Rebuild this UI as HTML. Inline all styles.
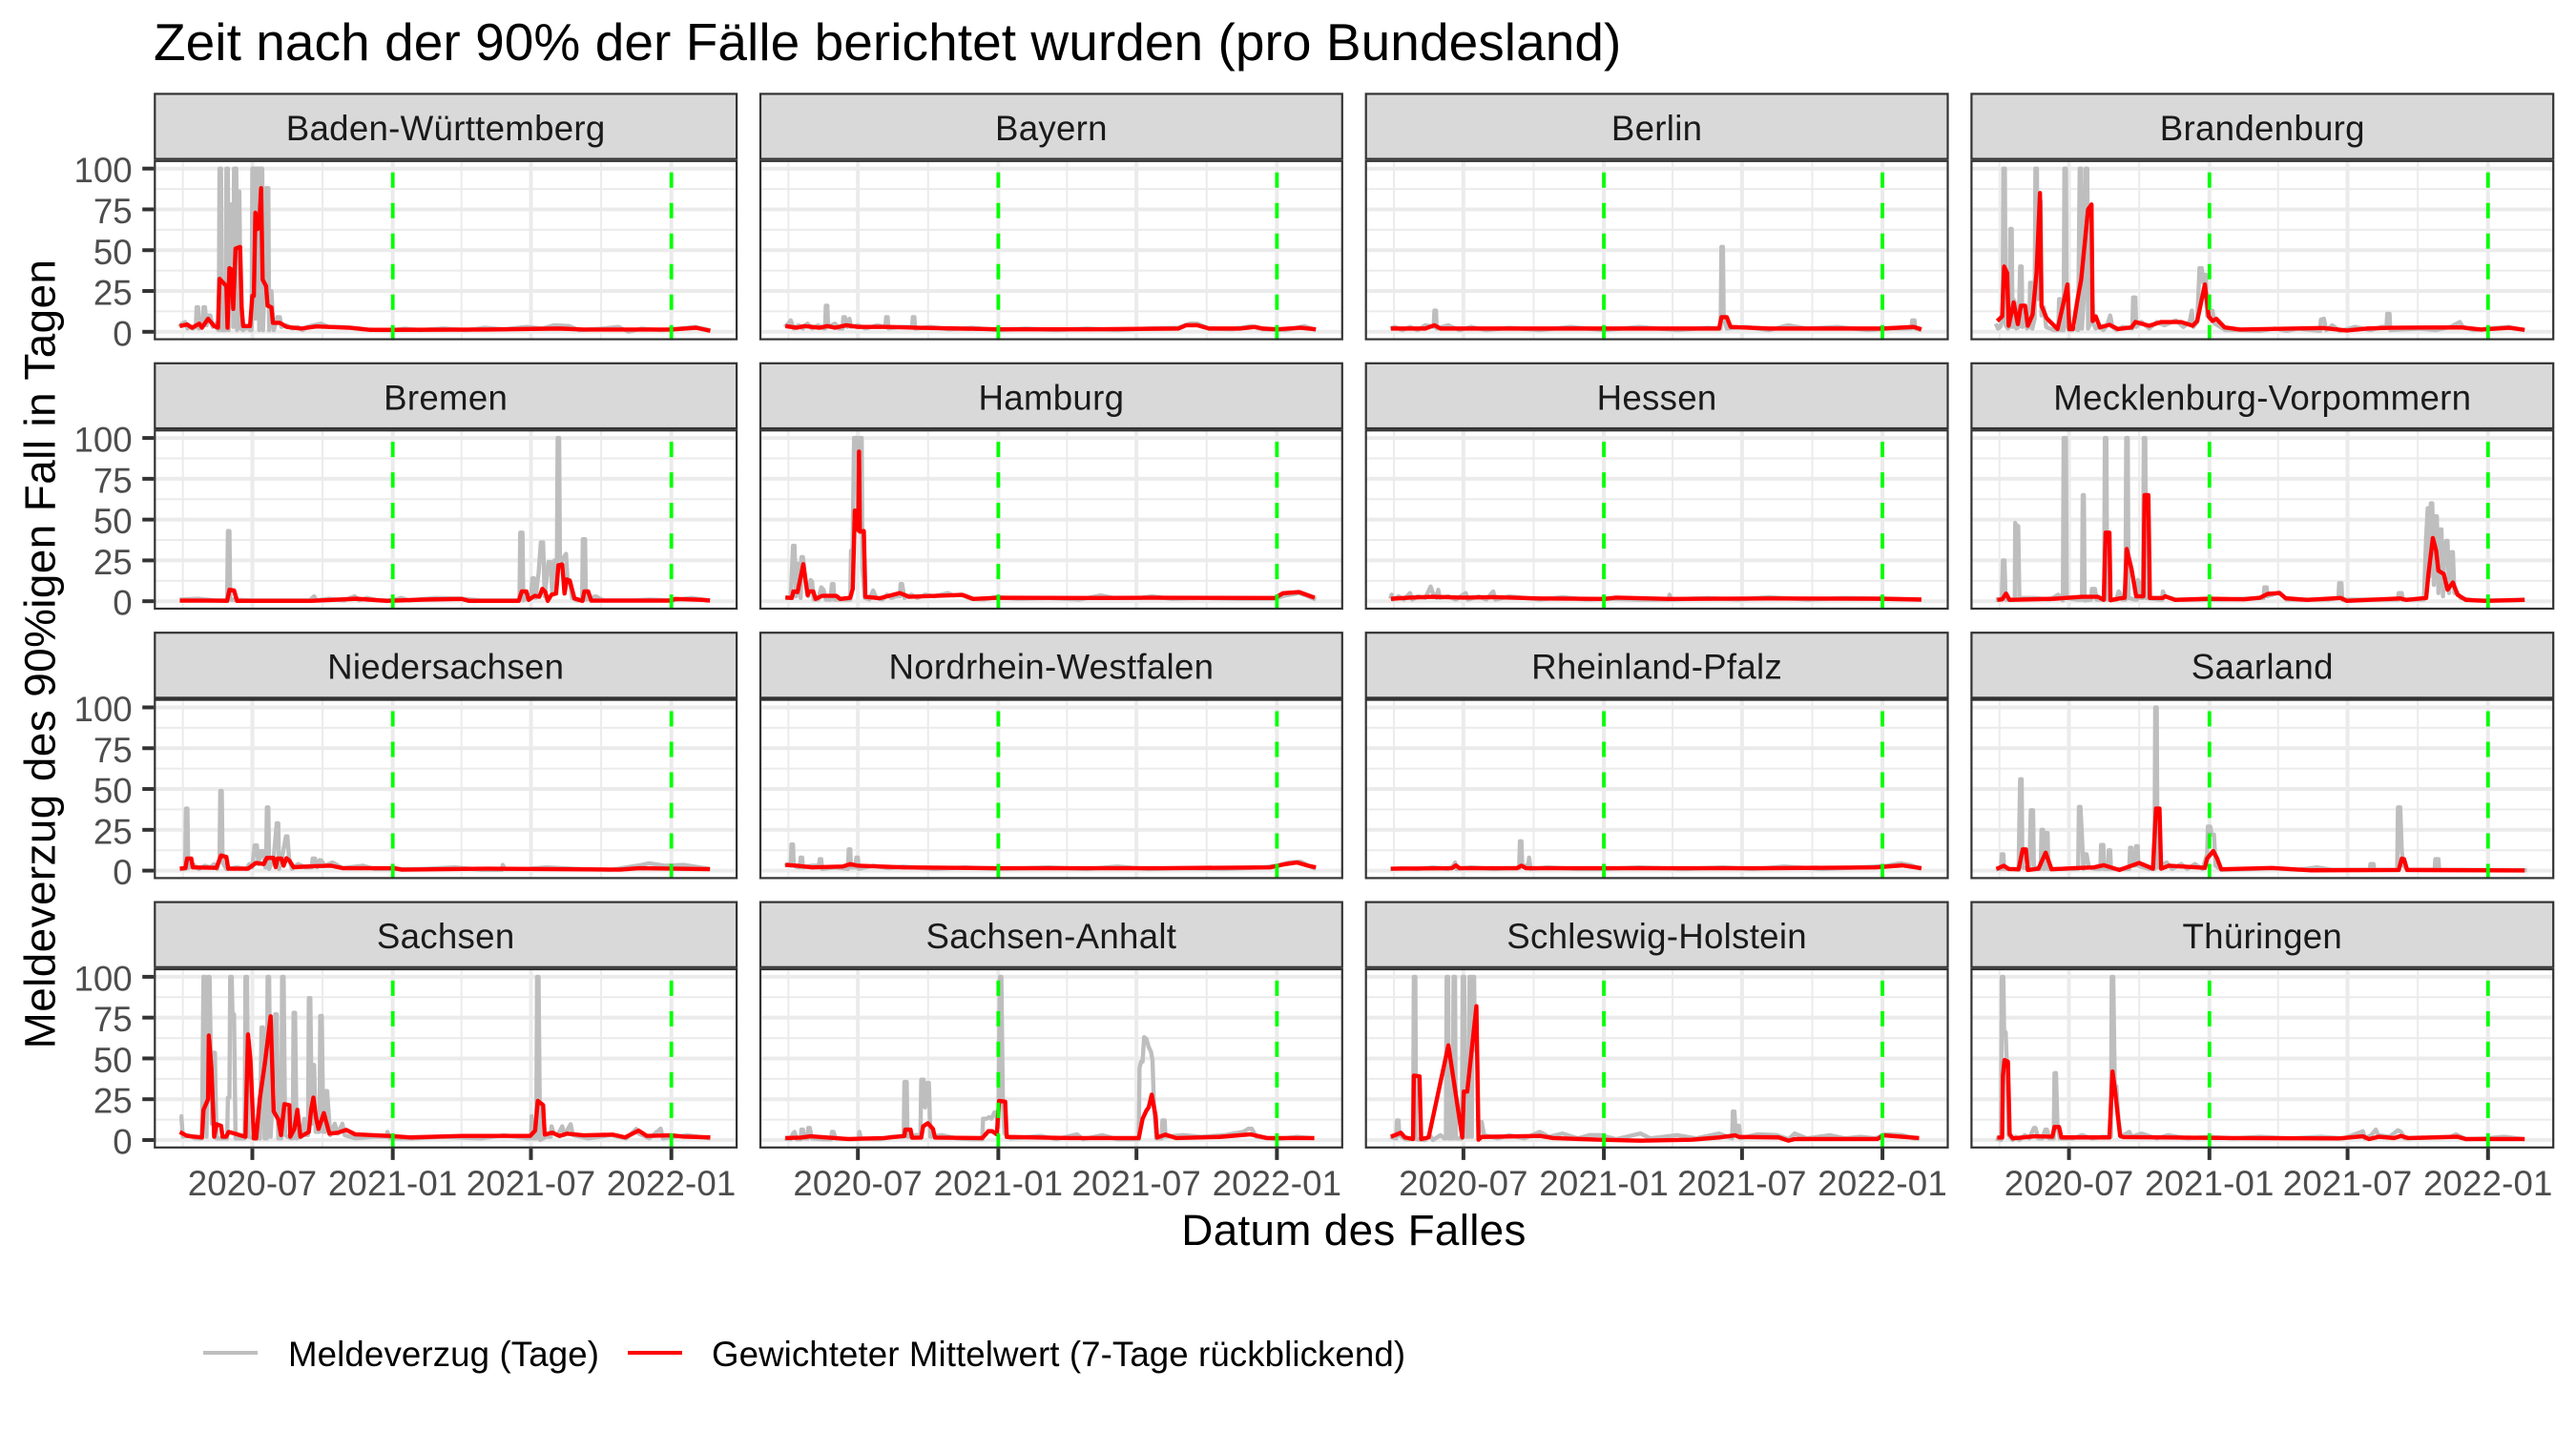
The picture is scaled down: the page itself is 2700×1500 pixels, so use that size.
<!DOCTYPE html>
<html lang="de">
<head>
<meta charset="utf-8">
<title>Zeit nach der 90% der Fälle berichtet wurden (pro Bundesland)</title>
<style>
html,body{margin:0;padding:0;background:#fff;}
svg{display:block;}
text{font-family:"Liberation Sans",Arial,sans-serif;}
</style>
</head>
<body>
<svg id="chart" width="2700" height="1500" viewBox="0 0 2700 1500" xmlns="http://www.w3.org/2000/svg">
<rect x="0" y="0" width="2700" height="1500" fill="#ffffff"/>
<text x="161" y="63" font-size="55" letter-spacing="0.06" fill="#000000">Zeit nach der 90% der Fälle berichtet wurden (pro Bundesland)</text>
<text transform="translate(57.5,685.5) rotate(-90)" text-anchor="middle" font-size="45.83" letter-spacing="0.43" fill="#000000">Meldeverzug des 90%igen Fall in Tagen</text>
<text x="1419" y="1305" text-anchor="middle" font-size="45.83" letter-spacing="0.3" fill="#000000">Datum des Falles</text>
<g>
<line x1="213" y1="1418" x2="270" y2="1418" stroke="#BEBEBE" stroke-width="4"/>
<text x="302" y="1432" font-size="36.67" letter-spacing="0.12" fill="#000000">Meldeverzug (Tage)</text>
<line x1="658" y1="1418" x2="715" y2="1418" stroke="#FF0000" stroke-width="4"/>
<text x="746" y="1432" font-size="36.67" letter-spacing="0.09" fill="#000000">Gewichteter Mittelwert (7-Tage rückblickend)</text>
</g>
<g id="panels"></g>
</svg>
<script>
const states = ["Baden-Württemberg","Bayern","Berlin","Brandenburg","Bremen","Hamburg","Hessen","Mecklenburg-Vorpommern","Niedersachsen","Nordrhein-Westfalen","Rheinland-Pfalz","Saarland","Sachsen","Sachsen-Anhalt","Schleswig-Holstein","Thüringen"];
const xTickDates = ["2020-07-01","2021-01-01","2021-07-01","2022-01-01"];
const xTickLabels = ["2020-07","2021-01","2021-07","2022-01"];
const xMinorDates = ["2020-04-01","2020-10-01","2021-04-01","2021-10-01"];
const yTicks = [0,25,50,75,100];
const yTickLabels = ["0","25","50","75","100"];
const yMinorTicks = [12.5,37.5,62.5,87.5];
const markerDates = ["2021-01-01","2022-01-01"];

/* Each pair is [days since 2020-07-01, delay in days] */
const bwGrey = [[-96,3],[-92,5],[-88,6],[-85,2],[-82,3],[-78,2],[-74,3],[-73,15],[-71,15],[-70,2],[-66,3],[-64,15],[-62,15],[-60,4],[-57,10],[-55,10],[-52,3],[-48,5],[-46,2],[-44,1],[-43,100],[-41,100],[-40,1],[-35,1],[-34,100],[-32,100],[-31,1],[-30,78],[-26,78],[-25,3],[-24,100],[-21,100],[-20,1],[-19,86],[-17,86],[-15,2],[-12,1],[-7,3],[-3,1],[-1,1],[0,100],[3,100],[4,8],[5,100],[8,100],[9,1],[10,100],[13,100],[14,1],[16,30],[18,88],[21,88],[22,1],[25,25],[28,1],[33,9],[36,9],[38,3],[45,4],[52,2],[60,3],[66,1],[72,3],[80,4],[90,5],[100,3],[115,3],[130,2.5],[145,1.5],[170,1],[184,1],[200,2],[220,1],[250,2],[280,1],[305,2.5],[330,1.5],[360,3],[380,2],[395,4],[415,3.5],[428,1],[460,2],[480,3],[493,0],[510,2],[535,1],[560,2],[580,3],[600,1]];
const bwRed = [[-95,3.5],[-85.5,4.5],[-79,2.5],[-69.5,5],[-66,2.5],[-58,8],[-50,3.5],[-45,2.5],[-43,32.5],[-38,30],[-34,28],[-32.5,2.5],[-30,39],[-27,38],[-25,14],[-22,51],[-16,52],[-14,15],[-12,3.5],[-3,3.5],[0,22],[2,22],[4,73],[7,63],[9,65],[11.5,88],[13.5,32],[18,28],[20,16],[25,15],[27,5.5],[36,5.5],[45,3],[64,2],[84,3.3],[128,2.5],[154,1.2],[184,1.2],[307,1.4],[402,2],[434,1.4],[549,1.4],[581,2.5],[600,0.6]];

const byGrey = [[-96,3],[-91,5],[-88,7],[-84,2],[-78,4],[-72,2],[-66,5],[-60,2],[-52,4],[-45,2],[-43,2],[-42,16],[-40,16],[-39,3],[-30,5],[-25,2],[-20,2],[-19,9],[-17,9],[-14,3],[-11,8],[-9,3],[0,4],[10,2],[25,4],[36,3],[37,9],[39,9],[40,2],[55,3],[71,3],[72,9],[74,9],[75,2],[95,3],[120,1.5],[150,2.5],[184,1],[220,2],[260,1],[300,2],[340,1],[380,2],[420,2.5],[435,5],[445,5],[460,2],[490,1.5],[515,3.5],[530,1.5],[560,1],[585,3.5],[600,1]];
const byRed = [[-95,3.5],[-80,2.5],[-70,3.5],[-50,2.5],[-40,3.5],[-30,2.5],[-15,4],[0,3],[40,3],[80,2.5],[184,1.5],[300,1.5],[420,2],[430,4],[445,4],[460,2],[500,2],[520,3],[530,2],[549,1.5],[580,2.5],[600,1.5]];

const beGrey = [[-96,2],[-90,3],[-80,1],[-70,3],[-60,1],[-50,4],[-39,3],[-38,13],[-36,13],[-35,2],[-20,4],[-5,1],[10,3],[30,1],[60,2.5],[100,1],[140,3],[184,1],[230,3],[280,1],[320,2.5],[337,2],[338,52],[340,52],[341,8],[345,2],[370,3],[400,1],[425,4],[450,2],[490,3],[530,1],[560,2],[587,2],[588,7],[591,7],[592,2],[600,1]];
const beRed = [[-95,2],[-50,2],[-38,4],[-30,2],[60,2],[184,2],[335,2],[338,9],[345,9],[350,3],[400,2],[549,2],[590,3],[600,1.5]];

const bbGrey = [[-96,5],[-93,2],[-90,3],[-87,8],[-86,100],[-84,100],[-83,4],[-80,2],[-78,3],[-77,63],[-75,63],[-74,3],[-73,20],[-71,18],[-69,2],[-66,3],[-64,40],[-62,40],[-61,3],[-58,8],[-55,2],[-52,3],[-51,30],[-49,30],[-48,2],[-45,8],[-44,100],[-42,100],[-41,20],[-39,80],[-37,80],[-36,10],[-33,15],[-30,3],[-25,2],[-20,1],[-14,1],[-13,20],[-11,20],[-10,1],[-7,1],[-6,100],[-4,100],[-3,5],[0,1],[4,1],[8,2],[12,1],[14,100],[16,100],[17,2],[20,25],[22,100],[24,100],[25,2],[28,5],[30,32],[32,5],[35,2],[40,3],[45,1],[50,4],[54,10],[57,3],[62,1],[70,3],[83,2],[84,21],[87,21],[88,3],[95,6],[105,2],[115,6],[125,4],[140,7],[150,3],[158,6],[161,13],[163,3],[168,6],[171,39],[174,39],[176,30],[179,35],[181,10],[185,8],[188,13],[191,5],[198,3],[205,1],[225,1],[250,0.5],[270,2],[285,0.5],[300,2],[329,0.5],[330,7.5],[334,8],[337,1],[345,4],[355,0.5],[375,3],[395,1],[410,3],[416,3],[417,11],[420,11],[421,1],[440,1.5],[460,2],[480,1],[500,3],[512,6],[516,3],[530,1],[550,2],[575,3],[597,1]];
const bbRed = [[-94,6.6],[-87.5,9.5],[-85,40],[-81,36],[-79,3.7],[-72.5,18],[-67,4.7],[-63,16],[-57.5,16],[-54,3.7],[-47.7,10.5],[-42.5,36],[-38,85],[-36,16],[-29.5,8.5],[-15,1.7],[-9,14],[-2,29],[0.5,1.7],[5,1.7],[12,22],[16,32],[25,75],[29.5,78],[31,6.6],[35,9.5],[40.5,2.7],[53,4.3],[64,1.7],[82,2.7],[87,6],[105,3.7],[121,6],[147,6],[162,3.7],[168,6.6],[178,29],[183,9.5],[188,6.6],[193,8],[204,2.7],[224,1.4],[333,2.3],[364,0.8],[390,2],[421,2.5],[514,2.7],[540,1.4],[577,2.5],[597,1.2]];

const hbGreyB = [[-95,1],[-70,1.5],[-50,0.5],[-33,0.5],[-32,43],[-30,43],[-29,1],[0,0.5],[40,0.5],[75,0.5],[81,3],[84,0.5],[100,1.5],[120,0.5],[134,3],[140,0.5],[150,2],[165,0.5],[184,0.5],[195,2],[205,0.5],[240,2],[275,1.5],[300,0.5],[350,0.5],[351,42],[354,42],[355,0.5],[365,3],[367,14],[369,14],[371,2],[375,17],[378,36],[381,36],[383,3],[388,24],[391,24],[393,4],[396,25],[399,20],[400,100],[402,100],[403,27],[405,24],[408,27],[411,29],[413,13],[416,13],[419,2],[425,0.5],[432,0.5],[433,38],[436,38],[437,1],[450,3],[460,0.5],[500,0.5],[520,1],[549,0.5],[575,2],[590,1],[600,0.5]];
const hbRed = [[-95,0.4],[-52,0.4],[-33,0.2],[-30,7],[-24,6.6],[-20,0.2],[77,0.2],[137,1.5],[176,0.2],[225,1],[274,1.4],[284,0.2],[349,0.2],[353,6],[359,6],[362,0.8],[370,3.3],[376,2.7],[380,7.6],[384,5.6],[387,0.2],[392,4],[398,4.7],[401,22],[406,22.5],[409,4.7],[412,13.4],[416,12.4],[422,1.7],[432.6,0.2],[435,6],[440,6],[444,0.4],[549,0.4],[554,1.4],[590,0.8],[599.5,0.4]];

const hhGrey = [[-95,2],[-88,2],[-85,34],[-83,34],[-81,3],[-79,23],[-77,18],[-75,2],[-74,27],[-72,27],[-68,10],[-65,3],[-62,13],[-60,12],[-58,1],[-52,1],[-48,8.5],[-45,7],[-42,1],[-36,1],[-34,10.5],[-32,10.5],[-31,1],[-20,1],[-10,1],[-9,31],[-7,31],[-5,100],[-1,100],[0,50],[3,100],[5,100],[6,20],[9,2],[15,1],[20,6.6],[24,2],[32,1],[38,4],[44,2],[50,3],[55,3],[56,10.5],[58,10.5],[61,2],[70,4],[78,2],[88,4],[100,3],[118,5],[125,3.5],[135,4],[148,1.5],[165,1],[180,2.5],[210,1.5],[250,2],[290,1],[318,3.5],[335,2],[370,2],[385,3],[410,1.5],[450,2],[500,1.5],[545,1.5],[560,3.5],[578,5],[590,3],[600,1]];
const hhRed = [[-95,2.3],[-86.5,2],[-84.5,6],[-79,5.6],[-71.5,22.7],[-65.8,3.7],[-63.7,6],[-58.5,6],[-55.4,1.4],[-46.6,3.3],[-28.5,3.3],[-23,1.4],[-10,2.1],[-6.7,7.6],[-4,55.6],[-1.5,55],[0.5,43.5],[1.5,91.7],[2.6,42.6],[7.8,43],[9.8,2.7],[28.5,1.8],[55,5],[67,2.7],[116.6,3.5],[137,3.9],[151,1.4],[184,2.1],[318.6,2],[381,2.1],[546.6,2],[557,4.9],[578,5.6],[598.5,2.1]];

const heGrey = [[-96,1.5],[-94,4],[-92,1],[-85,3],[-78,1],[-70,5],[-67,1],[-60,3],[-50,2],[-43,9],[-40,5],[-35,2],[-33,7],[-31,2],[-20,3],[-10,1],[3,5],[6,1],[20,3],[30,1],[39,6],[42,1],[60,3],[100,1],[130,2.5],[160,1],[190,1.5],[230,1],[269,1],[270,4],[272,1],[320,2],[360,1],[400,2.5],[450,1],[500,2],[550,1.5],[600,1]];
const heRed = [[-95,1.5],[-70,2.2],[-40,2.7],[0,2.2],[40,2.5],[100,1.7],[184,1.4],[200,2.2],[270,1.4],[400,1.7],[549,1.5],[600,1]];

const mvGrey = [[-96,1],[-88,1],[-86.5,25],[-84.5,25],[-83,1],[-71,1],[-70.5,48],[-68.5,46],[-66.5,46],[-65,2],[-55,2],[-45,2],[-25,1],[-14,4],[-8,0.5],[-7,100],[-4,100],[-3,2],[10,1],[17,1],[18,65],[19.5,65],[20.5,0.5],[29,1],[30,7.5],[34,7.5],[36,1],[46,1],[47,100],[49,100],[50,1],[62,1],[65,6],[67,5],[70,1],[74,1],[75,100],[77,100],[78,2],[86,1],[89,1],[90,13],[92,12],[94,2],[97,2],[98,100],[100,100],[101,2],[118,1],[122,1],[123,6],[126,3],[140,1],[184,1],[200,1],[230,1.5],[255,2],[256,8.5],[259,8.5],[260,3],[275,5.5],[285,1],[340,1],[353,2],[354,11],[357,11],[358,1],[420,1],[431,1],[432,5],[436,5],[437,1],[465,1],[468,40],[470,57],[472,15],[474,60],[476,60],[478,10],[480,52],[482,52],[484,5],[486,44],[488,44],[490,3],[492,30],[494,37],[496,37],[498,5],[501,30],[503,30],[505,5],[508,6],[513,2],[530,0.5],[570,0.5],[597,1]];
const mvRed = [[-94,0.8],[-87.5,1.2],[-82.4,4.7],[-78,0.8],[-19,1.5],[17,2.7],[38,2.7],[45.6,0.8],[48,42],[53,42],[54.4,0.6],[66,1.7],[73,2.1],[75.6,32],[82,19.6],[88,3],[97.4,3],[99,65],[104,65],[106,2],[123,2],[126,3],[139,0.8],[183,1.5],[229.5,1.2],[250,2.1],[260.6,4.5],[276,5],[284,1.8],[312,0.8],[356,2],[364,0.2],[434,1.7],[442,0.8],[468,2],[471,16.7],[476.7,38.7],[481,31],[484,18.7],[491,16.7],[496,7],[503,11.5],[509,4],[520,0.8],[545,0.2],[597,0.8]];

const niGrey = [[-95,1],[-88,1],[-87,38],[-85,38],[-84,1.5],[-78,4],[-70,1],[-62,3],[-55,2],[-50,4],[-46,1],[-43,7],[-42,48.8],[-40,48.8],[-39,5],[-34,1],[-20,2],[-8,1],[-4,4],[0,2],[3,15.4],[6,15.4],[8,4],[11,12],[14,12],[17,2],[18,2],[19,38.7],[21,38.7],[22,1],[28,8],[32,29],[34,29],[35,1],[39,8],[44,21],[46,21],[48,8],[52,1],[60,4],[70,2],[78,2],[79,7.4],[82,7.4],[85,2],[88,6.4],[90,6.4],[95,3],[105,5],[118,1.5],[145,3],[160,1],[184,1],[220,1],[265,2],[300,0.5],[327,0.5],[328,3.5],[331,1],[360,1],[385,2],[430,1],[470,0.5],[510,3.5],[520,4.5],[540,3],[565,3.5],[600,1]];
const niRed = [[-95,1.2],[-87.6,1.6],[-85.5,7.4],[-80,7.4],[-78,2],[-47,1.7],[-41,9.3],[-34,8.4],[-31.6,1.2],[-5.7,1.2],[4.7,4.7],[15,4],[19,7.8],[27.5,7.8],[30.6,2.1],[33,7.4],[38,7.4],[41,3],[44.6,7.6],[48.7,6],[54,2.1],[82,2.7],[103,3],[118.6,1.5],[186,1.5],[196,0.6],[310,1.2],[481,0.6],[507,1.5],[599.5,0.9]];

const nwGrey = [[-96,3],[-90,4],[-88,3],[-87,16],[-85,16],[-84,3],[-78,2],[-76,2],[-75,8],[-73,8],[-72,2],[-60,3],[-51,3],[-50,7],[-48,7],[-47,1],[-30,2],[-13,1],[-12,13],[-10,13],[-9,2],[-3,2],[-2,8],[0,8],[1,1],[20,3],[40,1.5],[60,2.5],[100,1],[140,2],[184,1],[250,2],[300,1],[340,2.5],[380,1],[420,1.5],[480,1],[530,2],[550,3],[565,5],[580,5.5],[595,2],[600,1]];
const nwRed = [[-95,3.5],[-80,3],[-60,2],[-20,2.5],[-10,4],[0,3],[60,2],[184,1.5],[400,1.5],[540,2],[560,4],[575,5],[590,3],[600,2]];

const rpGrey = [[-96,1],[-80,1.5],[-60,1],[-40,2],[-20,1],[-13,3],[-11,5],[-9,1],[10,2],[40,1],[60,1.5],[73,1.5],[74,18],[76,18],[77,3],[85,3],[86,8],[88,1],[110,2],[150,1],[184,1],[230,2],[290,1],[340,2],[380,1],[420,2.5],[470,1],[520,2],[555,3],[572,4.5],[585,3.5],[600,1]];
const rpRed = [[-95,1.2],[-15,1.5],[-10,3.2],[-5,1.5],[70,1.5],[76,3],[82,1.5],[400,1.5],[540,2],[575,3.2],[600,1.5]];

const slGrey = [[-96,1],[-89,1],[-88,10],[-86,10],[-85,1],[-72,1],[-66,0.5],[-65,30],[-64,56],[-62,56],[-61,2],[-52,1],[-50,37],[-47,37],[-46,3],[-42,1],[-37,1],[-36,25],[-34,25],[-33,1],[-32,1],[-31,23],[-28,23],[-27,1],[-15,1],[-5,1],[5,1],[12,1],[13,39],[15,39],[17,21],[19,1],[20,10],[23,10],[26,2],[35,1],[41,1],[42,15.7],[45,15.7],[46,1],[51,1],[52,12.4],[54,12.4],[55,1],[70,1],[79,1],[80,14],[82,14],[83,3],[87,3],[88,15],[90,15],[91,3],[105,1],[112,1],[113,100],[115,100],[116,2],[128,5],[135,1],[147,4],[155,1],[165,4],[175,1],[181,10],[182,27],[185,27],[187,22],[190,22],[192,3],[200,0.5],[240,1],[265,1.5],[300,0.5],[325,2],[345,0.5],[394,0.5],[395,4],[399,4],[400,0.5],[430,0.5],[431,38.7],[434,38.7],[436,12],[438,3],[445,0.5],[479,0.5],[480,7],[484,7],[485,0.5],[600,0.3]];
const slRed = [[-95,1],[-85.5,3],[-78.8,1],[-66,0.8],[-60.6,13],[-56.5,13],[-54,0.4],[-40,1.2],[-30.6,11],[-22.8,0.8],[1.5,1.4],[32.6,2],[45.6,3.3],[66,0.4],[92,4.7],[110,1.2],[114,38],[118.6,38],[120.7,1.2],[131,3],[178,1.7],[181,7.4],[189,12],[194,7.6],[199.5,0.8],[266,1.6],[317,0.2],[432,0.4],[436,7.4],[439,7],[443,0.4],[597,0.1]];

const saGrey = [[-95,14.6],[-93,14.6],[-91,2],[-84,3],[-75,1],[-66,1],[-64,100],[-62,100],[-60,2],[-58,100],[-56,100],[-53,10],[-51,53.4],[-49,53.4],[-47,1],[-40,1],[-33,1],[-32,26],[-30,26],[-29,100],[-27,100],[-26,77],[-24,77],[-22,1],[-15,1],[-10,1],[-9,100],[-7,100],[-5,2],[2,1],[10,1],[12,69],[14,69],[16,1],[19,1],[20,100],[22,100],[24,2],[28,40],[30,77],[32,77],[34,1],[38,1],[39,100],[41,100],[43,3],[50,1],[53,1],[54,78],[56,78],[58,1],[64,2],[68,13],[71,3],[73,3],[74,87],[76,87],[78,10],[79,46],[81,46],[83,5],[88,5],[89,76],[91,76],[93,5],[95,5],[96,30],[98,30],[102,3],[108,10],[112,4],[118,10],[121,3],[135,1],[160,2],[176,2],[177,5],[180,1],[210,1],[250,2],[300,1],[330,3],[360,1],[365,1],[366,14.6],[368,1],[372,1],[373,100],[375,100],[377,0],[385,2],[391,2],[392,8.4],[395,4],[400,3],[406,8.4],[409,3],[417,9.7],[420,3],[440,1],[470,3],[490,1],[503,6.8],[506,4],[520,1],[535,7],[538,1],[570,3],[600,1]];
const saRed = [[-95,4.9],[-85.5,2.5],[-66,1.6],[-64,18.5],[-58,25],[-57,64],[-53.6,43.7],[-50,2],[-47,9.7],[-41,8.7],[-39,2],[-34.4,2],[-31,5],[-9,2],[-5.7,64.7],[-2.5,49.6],[2,1],[5,1],[10,26],[16.6,47.6],[24,75.8],[28,17.5],[34,12.6],[37.6,3],[42,22],[48.5,21.4],[49.7,2],[55,6.8],[59,18.5],[63,2],[74,4.9],[77,18.5],[80,26],[83.5,13.6],[86.7,6.8],[93.7,16.5],[101,3.9],[112,4.5],[123,6.2],[134.6,3.5],[179,2.5],[208,1.6],[275,2.5],[364,2.5],[370.5,5.8],[374,24],[381,21.4],[383,3.3],[393,4.5],[402.4,2.5],[412,3.9],[434,2.9],[472.6,3.3],[488.5,1.6],[506,5.8],[517,2.5],[549,2.9],[565,2.1],[600,1.6]];

const stGrey = [[-96,1],[-88,0.5],[-85,4],[-83,5],[-80,0.5],[-75,0.5],[-74,6.4],[-72,6.4],[-70,1],[-66,1],[-65,7.4],[-63,7.4],[-60,1],[-45,0.5],[-35,0.5],[-34,5],[-32,5],[-29,1],[-10,0.5],[1,0.5],[2,5],[4,1],[30,0.5],[45,2],[60,2],[61,35.6],[64,35.6],[65,2],[76,3],[82,3],[83,37],[86,37],[88,20],[91,35],[93,35],[95,2],[110,3],[130,1],[150,0.5],[163,0.5],[164,13],[168,13],[172,14],[175,13],[179,17],[181,17],[184,8],[186,100],[188,100],[190,22],[192,4],[200,1],[240,2.5],[260,0.5],[287,3.5],[295,0.5],[320,3],[340,0.5],[368,0.5],[369,44],[371,48],[373,48],[375,63],[378,62],[381,57],[384,54],[386,49],[388,20],[391,1],[398,1],[399,12],[402,12],[403,2],[425,3],[450,2],[480,3],[505,5],[512,7],[516,7],[522,2],[550,0.5],[575,2],[598,1]];
const stRed = [[-95,1.2],[-75,1.5],[-62,2.3],[-13,0.6],[34,1.2],[61,2.5],[62,6.4],[69,6.4],[71,1.4],[83,1.5],[85.5,8.4],[91.7,10.3],[98.4,6.8],[101,1.5],[163,1.2],[171,5.4],[176,5.4],[182,3.5],[185,24],[193,23.5],[195,1.9],[277,1.2],[368,1.2],[373,13],[378,18],[381,20],[385,27.8],[390,15],[392,1.5],[403,3.3],[417,1.2],[474,1.9],[514,3.5],[536,1.2],[598,1.2]];

const shGrey = [[-96,2],[-90,1],[-88,1],[-87,12],[-85,12],[-84,3],[-76,0.5],[-70,0.5],[-66,0.5],[-65,100],[-63,100],[-62,0.5],[-50,0],[-44,3],[-40,0],[-30,3],[-25,1],[-23,1],[-22,100],[-20,100],[-19,1],[-14,1],[-13,100],[-11,100],[-10,1],[-2,1],[-1,100],[1,100],[3,2],[7,2],[8,100],[10,100],[11,2],[12,100],[14,100],[15,55],[18,55],[20,2],[22,11],[24,11],[27,3],[45,1],[60,3],[80,1],[100,5],[112,2],[130,4],[150,1],[165,3],[180,3],[200,0.5],[232,4],[245,1],[280,3],[305,1],[335,4],[352,1],[353,17.5],[355,17.5],[357,3],[359,8.7],[361,8.7],[363,1],[385,3.5],[410,3],[426,0.5],[434,4],[450,1],[480,3],[500,1],[520,2],[540,1],[552,3.5],[575,3],[590,1],[597,1]];
const shRed = [[-95,2],[-82,4.5],[-76.7,1.6],[-66,0.6],[-65,39.5],[-57.5,39],[-55.4,0.6],[-45.6,1.6],[-19.7,58],[-1.5,1.6],[0.5,29.7],[5,29.7],[17,82],[19.7,0.2],[24,1.9],[100.6,2.5],[117.6,1.2],[179.8,0.2],[231.6,-0.4],[299,0.2],[335,1.6],[356,2.9],[361,1.9],[413,1.6],[426,-0.4],[433.7,0.6],[542.5,0.6],[550,2.9],[597,1.2]];

const thGrey = [[-96,1],[-89,0],[-88,100],[-86,100],[-85,66],[-83,66],[-81,41],[-79,3],[-74,0],[-70,2],[-65,0],[-58,3],[-52,1],[-46,7.4],[-44,7.4],[-40,1],[-35,1],[-31,6.4],[-29,6.4],[-26,1],[-20,1],[-19,41],[-17,41],[-15,8],[-12,1],[5,1],[17,3],[30,1],[45,2],[55,2],[56,100],[58,100],[60,33],[62,33],[65,12],[68,2],[79,5],[82,2],[95,4],[115,1],[130,3],[155,1],[184,2],[215,1],[250,2],[290,1],[330,2],[360,1],[385,5.4],[388,1],[396,3],[402,6.4],[405,3],[420,2],[431,6],[435,5],[440,1],[470,1.5],[500,2],[507,3.5],[520,0.5],[545,1],[570,2],[597,0.5]];
const thRed = [[-94,1.5],[-87.5,1.5],[-86.5,39.5],[-84.5,49],[-80,48],[-77.7,3.5],[-73.6,1],[-45,2.3],[-21.8,2],[-19,8],[-13,8],[-10,1.6],[53,1.6],[57,42],[60,31.7],[63.7,16],[67,2.5],[71.5,1.8],[214,1.2],[354,1],[385,2.3],[393,0.6],[406,2],[426,1.2],[435,2.5],[444.6,1.2],[509,2],[520,0.6],[597,0.6]];

const greySeries = [bwGrey,byGrey,beGrey,bbGrey,hbGreyB,hhGrey,heGrey,mvGrey,niGrey,nwGrey,rpGrey,slGrey,saGrey,stGrey,shGrey,thGrey];
const redSeries = [bwRed,byRed,beRed,bbRed,hbRed,hhRed,heRed,mvRed,niRed,nwRed,rpRed,slRed,saRed,stRed,shRed,thRed];

const SVGNS = "http://www.w3.org/2000/svg";
const root = document.getElementById("panels");
const EPOCH = Date.UTC(2020,6,1);
function dayOf(s){ const p = s.split("-"); return (Date.UTC(+p[0],+p[1]-1,+p[2]) - EPOCH)/864e5; }

const PANEL_W = 612, COL_PITCH = 634.7, ROW_PITCH = 282.4, LEFT = 161.2, PANEL_TOP = 167.7, PANEL_H = 189, STRIP_TOP = 97.3;
const X_MIN = -129.1, X_MAX = 635.9;
function xAxis(col, d){ return LEFT + col*COL_PITCH + (d - X_MIN)/(X_MAX - X_MIN)*PANEL_W; }
function yAxis(row, v){ return 347.8 + row*ROW_PITCH - v*1.711; }
function mk(parent, tag, attrs, text){
  const el = document.createElementNS(SVGNS, tag);
  for (const k in attrs) el.setAttribute(k, attrs[k]);
  if (text !== undefined) el.textContent = text;
  parent.appendChild(el);
  return el;
}
function pathOf(col, row, pts){
  return pts.map(function(p,i){ return (i ? "L" : "M") + xAxis(col,p[0]).toFixed(2) + " " + yAxis(row,p[1]).toFixed(2); }).join("");
}
function slug(s){ return s.toLowerCase().replace(/ü/g,"ue").replace(/[^a-z]+/g,"-"); }

states.forEach(function(state, i){
  const col = i % 4, row = Math.floor(i / 4);
  const left = LEFT + col*COL_PITCH;
  const top = PANEL_TOP + row*ROW_PITCH;
  const bottom = top + PANEL_H;
  const stripTop = STRIP_TOP + row*ROW_PITCH;
  const name = slug(state);

  const g = mk(root, "g", {});
  
  

  const strip = mk(g, "rect", {x:left+1.1, y:stripTop+1.1, width:PANEL_W-2.2, height:top-stripTop-2.2, fill:"#D9D9D9", stroke:"#333333", "stroke-width":2.2});
  
  

  const stripLabel = mk(g, "text", {x:left+PANEL_W/2, y:stripTop+49.6, "text-anchor":"middle", "font-size":36.67, "letter-spacing":0.28, fill:"#1A1A1A"}, state);
  
  

  const bg = mk(g, "rect", {x:left, y:top, width:PANEL_W, height:PANEL_H, fill:"#ffffff"});
  
  

  const clipId = "clip" + i;
  const defs = mk(g, "defs", {});
  const clip = mk(defs, "clipPath", {id:clipId});
  mk(clip, "rect", {x:left, y:top, width:PANEL_W, height:PANEL_H});

  const inner = mk(g, "g", {"clip-path":"url(#" + clipId + ")"});

  yMinorTicks.forEach(function(v){
    const l = mk(inner, "line", {x1:left, x2:left+PANEL_W, y1:yAxis(row,v), y2:yAxis(row,v), stroke:"#EBEBEB", "stroke-width":2});
    
    
  });
  xMinorDates.forEach(function(s){
    const x = xAxis(col, dayOf(s));
    const l = mk(inner, "line", {x1:x, x2:x, y1:top, y2:bottom, stroke:"#EBEBEB", "stroke-width":2});
    
    
  });
  yTicks.forEach(function(v){
    const l = mk(inner, "line", {x1:left, x2:left+PANEL_W, y1:yAxis(row,v), y2:yAxis(row,v), stroke:"#EBEBEB", "stroke-width":4});
    
    
  });
  xTickDates.forEach(function(s){
    const x = xAxis(col, dayOf(s));
    const l = mk(inner, "line", {x1:x, x2:x, y1:top, y2:bottom, stroke:"#EBEBEB", "stroke-width":4});
    
    
  });

  const greyLine = mk(inner, "path", {d:pathOf(col,row,greySeries[i]), fill:"none", stroke:"#BEBEBE", "stroke-width":4.4, "stroke-linejoin":"round"});
  
  

  const redLine = mk(inner, "path", {d:pathOf(col,row,redSeries[i]), fill:"none", stroke:"#FF0000", "stroke-width":4.4, "stroke-linejoin":"round"});
  
  

  markerDates.forEach(function(s){
    const x = xAxis(col, dayOf(s));
    const l = mk(inner, "line", {x1:x, x2:x, y1:bottom, y2:top, stroke:"#00FF00", "stroke-width":3.8, "stroke-dasharray":"16 16"});
    
    
  });

  const border = mk(g, "rect", {x:left+1.1, y:top+1.1, width:PANEL_W-2.2, height:PANEL_H-2.2, fill:"none", stroke:"#333333", "stroke-width":2.2});
  
  

  if (col === 0) {
    yTicks.forEach(function(v, k){
      const y = yAxis(row, v);
      const t = mk(g, "line", {x1:left-12, x2:left, y1:y, y2:y, stroke:"#333333", "stroke-width":4});
      
      
      const lab = mk(g, "text", {x:left-22.5, y:y+14.5, "text-anchor":"end", "font-size":36.67, fill:"#4D4D4D"}, yTickLabels[k]);
      
      
    });
  }
  if (row === 3) {
    xTickDates.forEach(function(s, k){
      const x = xAxis(col, dayOf(s));
      const t = mk(g, "line", {x1:x, x2:x, y1:bottom, y2:bottom+12, stroke:"#333333", "stroke-width":4});
      
      
      const lab = mk(g, "text", {x:x, y:1253, "text-anchor":"middle", "font-size":36.67, "letter-spacing":0.15, fill:"#4D4D4D"}, xTickLabels[k]);
      
      
    });
  }
});
</script>
</body>
</html>
